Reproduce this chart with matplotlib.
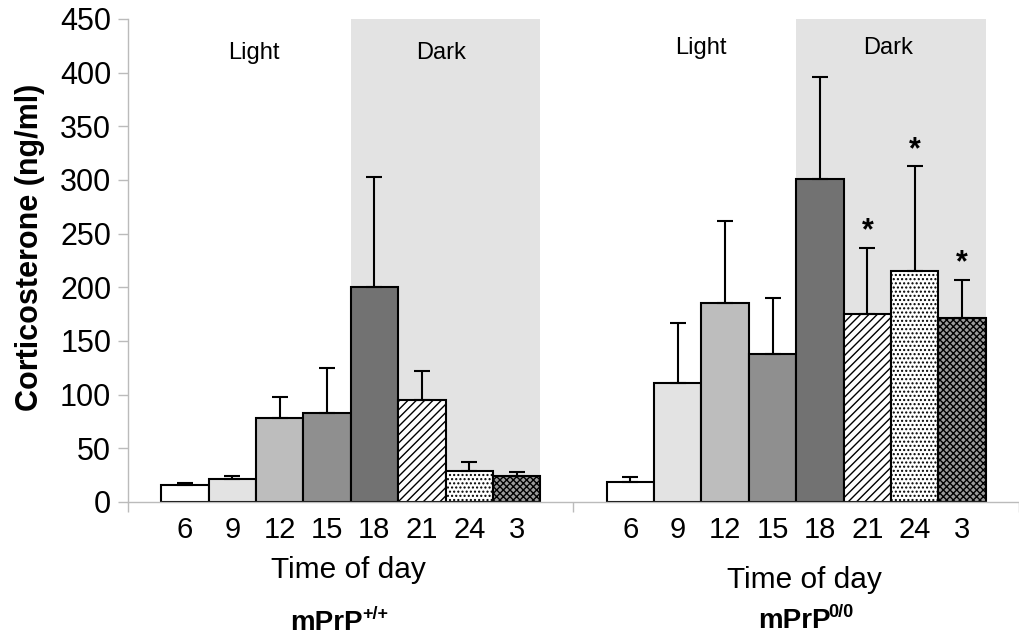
import numpy as np
import matplotlib
matplotlib.use("Agg")
import matplotlib.pyplot as plt
import matplotlib.transforms as mtransforms

plt.rcParams['font.family'] = ['Liberation Sans', 'DejaVu Sans']
plt.rcParams['hatch.linewidth'] = 1.0

# data
hours = ["6", "9", "12", "15", "18", "21", "24", "3"]
wt_mean = [16, 21, 78, 83, 200, 95, 29, 24]
wt_err = [2, 3, 20, 42, 103, 27, 8, 4]
ko_mean = [19, 111, 185, 138, 301, 175, 215, 171]
ko_err = [4, 56, 77, 52, 95, 62, 98, 36]
ko_signif = [False, False, False, False, False, True, True, True]
genotype = "mPrP"
superscripts = ["+/+", "0/0"]

faces = ["white", "#e3e3e3", "#bdbdbd", "#8f8f8f", "#727272", "white", "white", "#9a9a9a"]
hatches = [None, None, None, None, None, "////", "....", "xxxxx"]

fig = plt.figure(figsize=(10.19, 6.39), dpi=100)
ax = fig.add_axes([0.1256, 0.2144, 0.8744, 0.7559])

gap = 0.7
n = len(hours)
starts = [gap, 2 * gap + n + gap]
for g, (start, means, errs) in enumerate(zip(starts, [wt_mean, ko_mean], [wt_err, ko_err])):
    x = start + np.arange(n) + 0.5
    # dark phase shading
    ax.axvspan(start + 4, start + n, ymin=0, ymax=1, color="#e3e3e3", zorder=0, lw=0)
    for i in range(n):
        ax.bar(x[i], means[i], width=1.0, color=faces[i], edgecolor="black",
               hatch=hatches[i], linewidth=1.5, zorder=2)
    ax.errorbar(x, means, yerr=[np.zeros(n), errs], fmt="none", ecolor="black",
                elinewidth=1.5, capsize=6, capthick=1.5, zorder=3)
    if g == 1:
        for i in range(n):
            if ko_signif[i]:
                ax.text(x[i], means[i] + errs[i] + 1, "*", ha="center", va="bottom",
                        fontsize=22, fontweight="bold")

ax.set_xlim(0, 2 * (n + 2 * gap))
ax.set_ylim(0, 450)
ax.set_yticks(np.arange(0, 451, 50))
ax.tick_params(axis="y", labelsize=22, color="#bbbbbb", length=7, width=1, pad=5)

ax.set_xticks([0, n + 2 * gap, 2 * (n + 2 * gap)])
ax.set_xticklabels([])
ax.tick_params(axis="x", which="major", color="#bbbbbb", length=7, width=1)
centers = np.concatenate([starts[0] + np.arange(n) + 0.5, starts[1] + np.arange(n) + 0.5])
ax.set_xticks(centers, minor=True)
ax.set_xticklabels(hours * 2, minor=True, fontsize=21)
ax.tick_params(axis="x", which="minor", length=0, pad=10)

for s in ["top", "right"]:
    ax.spines[s].set_visible(False)
for s in ["left", "bottom"]:
    ax.spines[s].set_color("#bbbbbb")
    ax.spines[s].set_linewidth(1)

ax.set_ylabel("Corticosterone (ng/ml)", fontsize=22, fontweight="bold")
ax.yaxis.set_label_coords(-0.093, 0.528)

# light / dark labels
ax.text(2.66, 413, "Light", ha="center", va="baseline", fontsize=17)
ax.text(6.61, 413, "Dark", ha="center", va="baseline", fontsize=17)
ax.text(12.09, 417, "Light", ha="center", va="baseline", fontsize=17)
ax.text(16.03, 417, "Dark", ha="center", va="baseline", fontsize=17)

trans = mtransforms.blended_transform_factory(ax.transData, fig.transFigure)
ax.text(4.66, 0.0955, "Time of day", transform=trans, ha="center", va="baseline",
        fontsize=21.5)
ax.text(14.27, 0.0798, "Time of day", transform=trans, ha="center", va="baseline",
        fontsize=21.5)
for gx_left, gx_sup, yb, sup in [(3.42, 4.94, 0.014, superscripts[0]),
                                 (13.29, 14.77, 0.017, superscripts[1])]:
    ax.text(gx_left, yb, genotype, transform=trans, ha="left", va="baseline",
            fontsize=20, fontweight="bold")
    ax.text(gx_sup, yb + 0.017, sup, transform=trans, ha="left", va="baseline",
            fontsize=13, fontweight="bold")

fig.savefig("out.png", dpi=100)
